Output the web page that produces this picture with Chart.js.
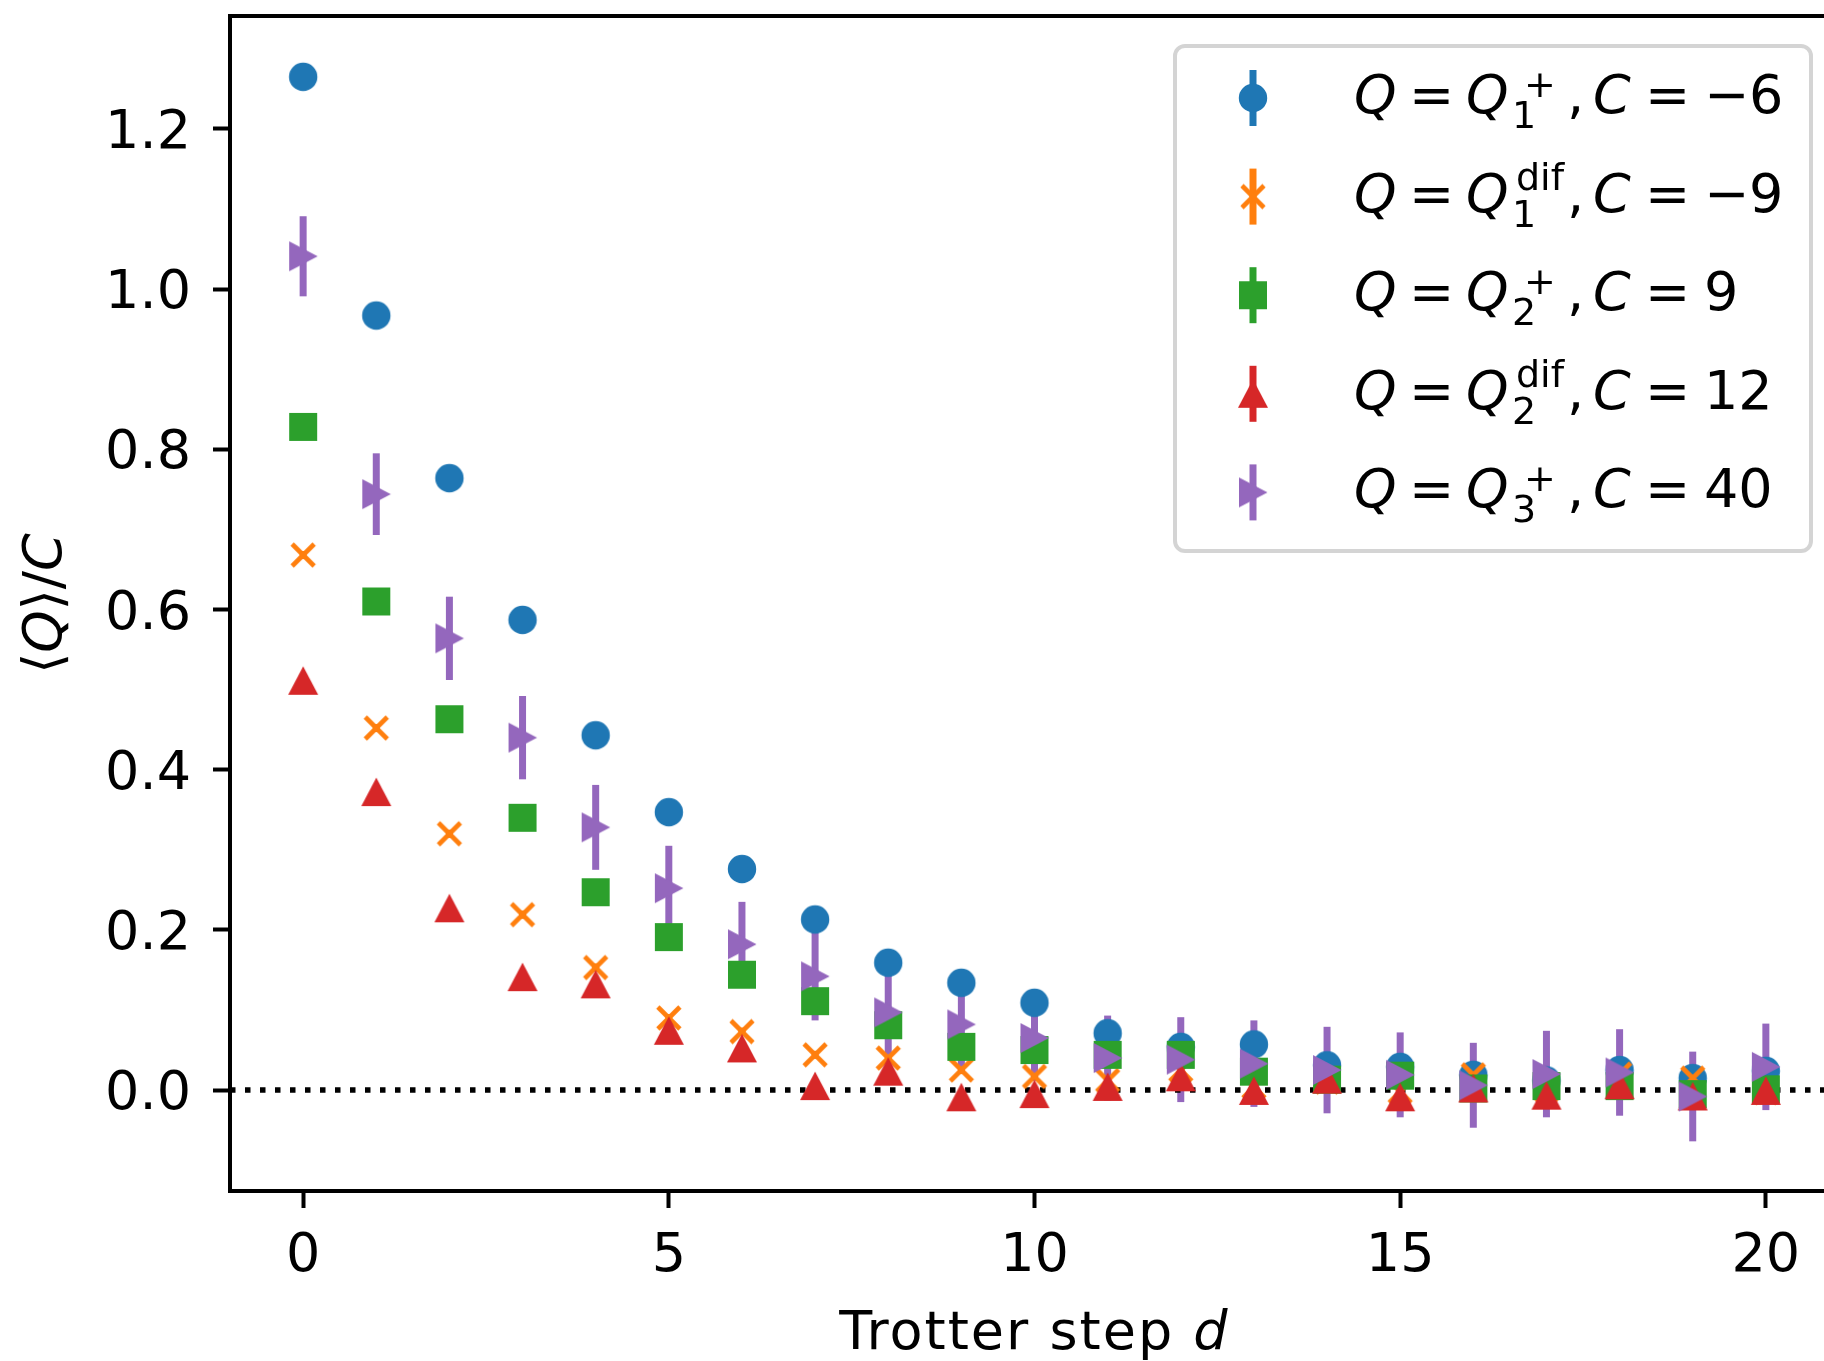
<!DOCTYPE html>
<html>
<head>
<meta charset="utf-8">
<script src="https://cdn.jsdelivr.net/npm/chart.js@4.4.0/dist/chart.umd.min.js"></script>
<style>
html, body { margin: 0; padding: 0; background: #ffffff; overflow: hidden; }
#wrap { width: 1824px; height: 1361px; overflow: hidden; position: relative; }
canvas { display: block; }
</style>
</head>
<body>
<div id="wrap"><canvas id="c" width="1845" height="1361"></canvas></div>
<script>
// ---------------- data ----------------
const steps = [0, 1, 2, 3, 4, 5, 6, 7, 8, 9, 10, 11, 12, 13, 14, 15, 16, 17, 18, 19, 20];

// Q = Q1+, C = -6
const q1Plus    = [1.265, 0.967, 0.764, 0.587, 0.443, 0.347, 0.276, 0.213, 0.159, 0.134, 0.109, 0.071, 0.054, 0.057, 0.031, 0.029, 0.019, 0.012, 0.025, 0.015, 0.024];
const q1PlusErr = [0.006, 0.006, 0.006, 0.006, 0.006, 0.006, 0.006, 0.006, 0.006, 0.006, 0.006, 0.006, 0.006, 0.006, 0.006, 0.006, 0.006, 0.006, 0.006, 0.006, 0.006];
// Q = Q1dif, C = -9
const q1Dif     = [0.668, 0.452, 0.320, 0.219, 0.153, 0.090, 0.073, 0.044, 0.040, 0.025, 0.017, 0.012, 0.025, 0.004, 0.010, -0.002, 0.019, 0.000, 0.020, 0.015, -0.003];
const q1DifErr  = [0.005, 0.005, 0.005, 0.005, 0.005, 0.005, 0.005, 0.005, 0.005, 0.005, 0.005, 0.005, 0.005, 0.005, 0.005, 0.005, 0.005, 0.005, 0.005, 0.005, 0.005];
// Q = Q2+, C = 9
const q2Plus    = [0.828, 0.610, 0.463, 0.340, 0.247, 0.191, 0.144, 0.111, 0.081, 0.054, 0.050, 0.044, 0.044, 0.023, 0.013, 0.018, 0.002, 0.005, 0.005, -0.005, 0.001];
const q2PlusErr = [0.006, 0.006, 0.006, 0.006, 0.006, 0.006, 0.006, 0.006, 0.006, 0.006, 0.006, 0.006, 0.006, 0.006, 0.006, 0.006, 0.006, 0.006, 0.006, 0.006, 0.006];
// Q = Q2dif, C = 12
const q2Dif     = [0.511, 0.372, 0.227, 0.141, 0.132, 0.074, 0.052, 0.005, 0.023, -0.009, -0.005, 0.004, 0.016, -0.001, 0.013, -0.009, 0.002, -0.007, 0.006, -0.008, -0.001];
const q2DifErr  = [0.005, 0.005, 0.005, 0.005, 0.005, 0.005, 0.005, 0.005, 0.005, 0.005, 0.005, 0.005, 0.005, 0.005, 0.005, 0.005, 0.005, 0.005, 0.005, 0.005, 0.005];
// Q = Q3+, C = 40
const q3Plus    = [1.041, 0.744, 0.564, 0.440, 0.328, 0.252, 0.182, 0.142, 0.097, 0.082, 0.065, 0.040, 0.038, 0.033, 0.025, 0.019, 0.006, 0.020, 0.022, -0.008, 0.029];
const q3PlusErr = [0.050, 0.051, 0.052, 0.052, 0.053, 0.053, 0.053, 0.055, 0.055, 0.053, 0.053, 0.053, 0.053, 0.054, 0.054, 0.053, 0.053, 0.054, 0.054, 0.056, 0.054];

const xTicks = [0, 5, 10, 15, 20];
const yTicks = [0.0, 0.2, 0.4, 0.6, 0.8, 1.0, 1.2];

const legendSub = ['1', '1', '2', '2', '3'];
const legendSup = ['+', 'dif', '+', 'dif', '+'];
const legendC   = ['\u22126', '\u22129', '9', '12', '40'];

// ---------------- styles ----------------
const colors = ['#1f77b4', '#ff7f0e', '#2ca02c', '#d62728', '#9467bd'];
const FONT = '"DejaVu Sans"';
const FS = 54, SS = 38;
Chart.defaults.font.family = 'DejaVu Sans';

function makeMarker(kind, color) {
  const S = 40;
  const c = document.createElement('canvas');
  c.width = S; c.height = S;
  const g = c.getContext('2d');
  g.translate(S / 2, S / 2);
  g.fillStyle = color; g.strokeStyle = color;
  if (kind === 'circle') {
    g.beginPath(); g.arc(0, 0, 14.2, 0, 2 * Math.PI); g.fill();
  } else if (kind === 'square') {
    g.fillRect(-14, -14, 28, 28);
  } else if (kind === 'x') {
    g.lineWidth = 4.6; g.lineCap = 'butt';
    g.beginPath();
    g.moveTo(-11, -11); g.lineTo(11, 11);
    g.moveTo(11, -11); g.lineTo(-11, 11);
    g.stroke();
  } else if (kind === 'tri') {
    g.beginPath(); g.moveTo(0, -14.5); g.lineTo(15, 14); g.lineTo(-15, 14); g.closePath(); g.fill();
  } else if (kind === 'triR') {
    g.beginPath(); g.moveTo(14.5, 0); g.lineTo(-14, -15); g.lineTo(-14, 15); g.closePath(); g.fill();
  }
  return c;
}
const markerKinds = ['circle', 'x', 'square', 'tri', 'triR'];
const markers = markerKinds.map((k, i) => makeMarker(k, colors[i]));

const seriesVals = [q1Plus, q1Dif, q2Plus, q2Dif, q3Plus];
const seriesErrs = [q1PlusErr, q1DifErr, q2PlusErr, q2DifErr, q3PlusErr];

const datasets = seriesVals.map((vals, k) => ({
  data: steps.map((s, i) => ({ x: s, y: vals[i] })),
  pointStyle: markers[k],
  pointRadius: 14,
  pointHoverRadius: 14,
  showLine: false,
  order: 5 - k,
  errors: seriesErrs[k],
  errColor: colors[k]
}));

// ---------------- plugins ----------------
const underPlugin = {
  id: 'under',
  beforeDatasetsDraw(chart) {
    const { ctx, chartArea: a, scales: { x, y } } = chart;
    ctx.save();
    ctx.beginPath(); ctx.rect(a.left, a.top, a.right - a.left, a.bottom - a.top); ctx.clip();
    // error bars (below all markers)
    chart.data.datasets.forEach(ds => {
      ctx.strokeStyle = ds.errColor; ctx.lineWidth = 7; ctx.lineCap = 'butt';
      ds.data.forEach((p, i) => {
        const e = ds.errors[i];
        const px = x.getPixelForValue(p.x);
        ctx.beginPath();
        ctx.moveTo(px, y.getPixelForValue(p.y - e));
        ctx.lineTo(px, y.getPixelForValue(p.y + e));
        ctx.stroke();
      });
    });
    // dotted zero line
    const y0 = y.getPixelForValue(0);
    ctx.strokeStyle = '#000'; ctx.lineWidth = 5.5; ctx.setLineDash([5.5, 9.5]);
    ctx.beginPath(); ctx.moveTo(a.left, y0); ctx.lineTo(a.right, y0); ctx.stroke();
    ctx.restore();
  }
};

function drawLegendLabel(ctx, x0, base, sub, sup, cval) {
  const up = `${FS}px ${FONT}`, it = `italic ${FS}px ${FONT}`, sm = `${SS}px ${FONT}`;
  ctx.fillStyle = '#000'; ctx.textBaseline = 'alphabetic'; ctx.textAlign = 'left';
  ctx.font = it; ctx.fillText('Q', x0, base);
  ctx.font = up; ctx.fillText('=', x0 + 55, base);
  ctx.font = it; ctx.fillText('Q', x0 + 112, base);
  ctx.font = sm; ctx.fillText(sub, x0 + 158, base + 15);
  if (sup === '+') ctx.fillText(sup, x0 + 170, base - 16);
  else ctx.fillText(sup, x0 + 162, base - 22);
  ctx.font = up; ctx.fillText(',', x0 + 213, base);
  ctx.font = it; ctx.fillText('C', x0 + 239, base);
  ctx.font = up; ctx.fillText('=', x0 + 291, base);
  if (cval.startsWith('\u2212')) {
    ctx.fillText('\u2212', x0 + 350, base);
    ctx.fillText(cval.slice(1), x0 + 395, base);
  } else {
    ctx.fillText(cval, x0 + 350, base);
  }
}

const overPlugin = {
  id: 'over',
  afterDatasetsDraw(chart) {
    const { ctx, chartArea: a } = chart;
    ctx.save();
    // spines
    ctx.strokeStyle = '#000'; ctx.lineWidth = 4; ctx.lineJoin = 'miter';
    ctx.strokeRect(a.left, a.top, a.right - a.left, a.bottom - a.top);

    // legend frame
    const lx = a.right - 664, ly = a.top + 30, lw = 636, lh = 505;
    ctx.beginPath();
    ctx.roundRect(lx, ly, lw, lh, 10);
    ctx.fillStyle = 'rgba(255,255,255,0.8)'; ctx.fill();
    ctx.strokeStyle = 'rgba(204,204,204,0.85)'; ctx.lineWidth = 4; ctx.stroke();

    for (let i = 0; i < 5; i++) {
      const my = ly + 52 + i * 98.6;
      const mx = lx + 78;
      ctx.strokeStyle = colors[i]; ctx.lineWidth = 7; ctx.lineCap = 'butt';
      ctx.beginPath(); ctx.moveTo(mx, my - 28); ctx.lineTo(mx, my + 28); ctx.stroke();
      ctx.drawImage(markers[i], mx - 20, my - 20);
      drawLegendLabel(ctx, lx + 179, my + 15, legendSub[i], legendSup[i], legendC[i]);
    }

    // x axis title
    const up = `${FS}px ${FONT}`, it = `italic ${FS}px ${FONT}`;
    ctx.fillStyle = '#000'; ctx.textBaseline = 'alphabetic'; ctx.textAlign = 'left';
    ctx.letterSpacing = '2px';
    ctx.font = up; const w1 = ctx.measureText('Trotter step ').width;
    ctx.font = it; const w2 = ctx.measureText('d').width;
    const cx = (a.left + a.right) / 2;
    let sx = cx - (w1 + w2) / 2;
    ctx.font = up; ctx.fillText('Trotter step ', sx, 1349);
    ctx.font = it; ctx.fillText('d', sx + w1, 1349);
    ctx.letterSpacing = '0px';

    // y axis title  <Q>/C
    const pieces = [['\u27E8', up], ['Q', it], ['\u27E9', up], ['/', up], ['C', it]];
    let total = 0;
    const widths = pieces.map(([t, f]) => { ctx.font = f; const w = ctx.measureText(t).width; total += w; return w; });
    ctx.translate(61, (a.top + a.bottom) / 2);
    ctx.rotate(-Math.PI / 2);
    let px = -total / 2;
    pieces.forEach(([t, f], i) => { ctx.font = f; ctx.fillText(t, px, 0); px += widths[i]; });
    ctx.restore();
  }
};

function noPad(s) { s.paddingTop = 0; s.paddingBottom = 0; s.paddingLeft = 0; s.paddingRight = 0; }

// ---------------- chart ----------------
new Chart(document.getElementById('c'), {
  type: 'scatter',
  data: { datasets },
  options: {
    responsive: false,
    animation: false,
    devicePixelRatio: 1,
    events: [],
    layout: { autoPadding: false, padding: { left: 0, top: 16, right: 6, bottom: 0 } },
    plugins: { legend: { display: false }, tooltip: { enabled: false } },
    scales: {
      x: {
        type: 'linear', min: -1, max: 21,
        afterBuildTicks: s => { s.ticks = xTicks.map(v => ({ value: v })); },
        afterFit: s => { s.height = 170; noPad(s); },
        grid: { drawOnChartArea: false, drawTicks: true, tickLength: 17, tickWidth: 4, tickColor: '#000' },
        border: { display: false },
        ticks: { color: '#000', font: { size: FS, family: 'DejaVu Sans' }, padding: 17, maxRotation: 0, autoSkip: false,
                 callback: v => String(v) }
      },
      y: {
        type: 'linear', min: -0.126, max: 1.341,
        afterBuildTicks: s => { s.ticks = yTicks.map(v => ({ value: v })); },
        afterFit: s => { s.width = 230; noPad(s); },
        grid: { drawOnChartArea: false, drawTicks: true, tickLength: 17, tickWidth: 4, tickColor: '#000' },
        border: { display: false },
        ticks: { color: '#000', font: { size: FS, family: 'DejaVu Sans' }, padding: 22, labelOffset: 5, autoSkip: false,
                 callback: v => v.toFixed(1) }
      }
    }
  },
  plugins: [underPlugin, overPlugin]
});
</script>
</body>
</html>
